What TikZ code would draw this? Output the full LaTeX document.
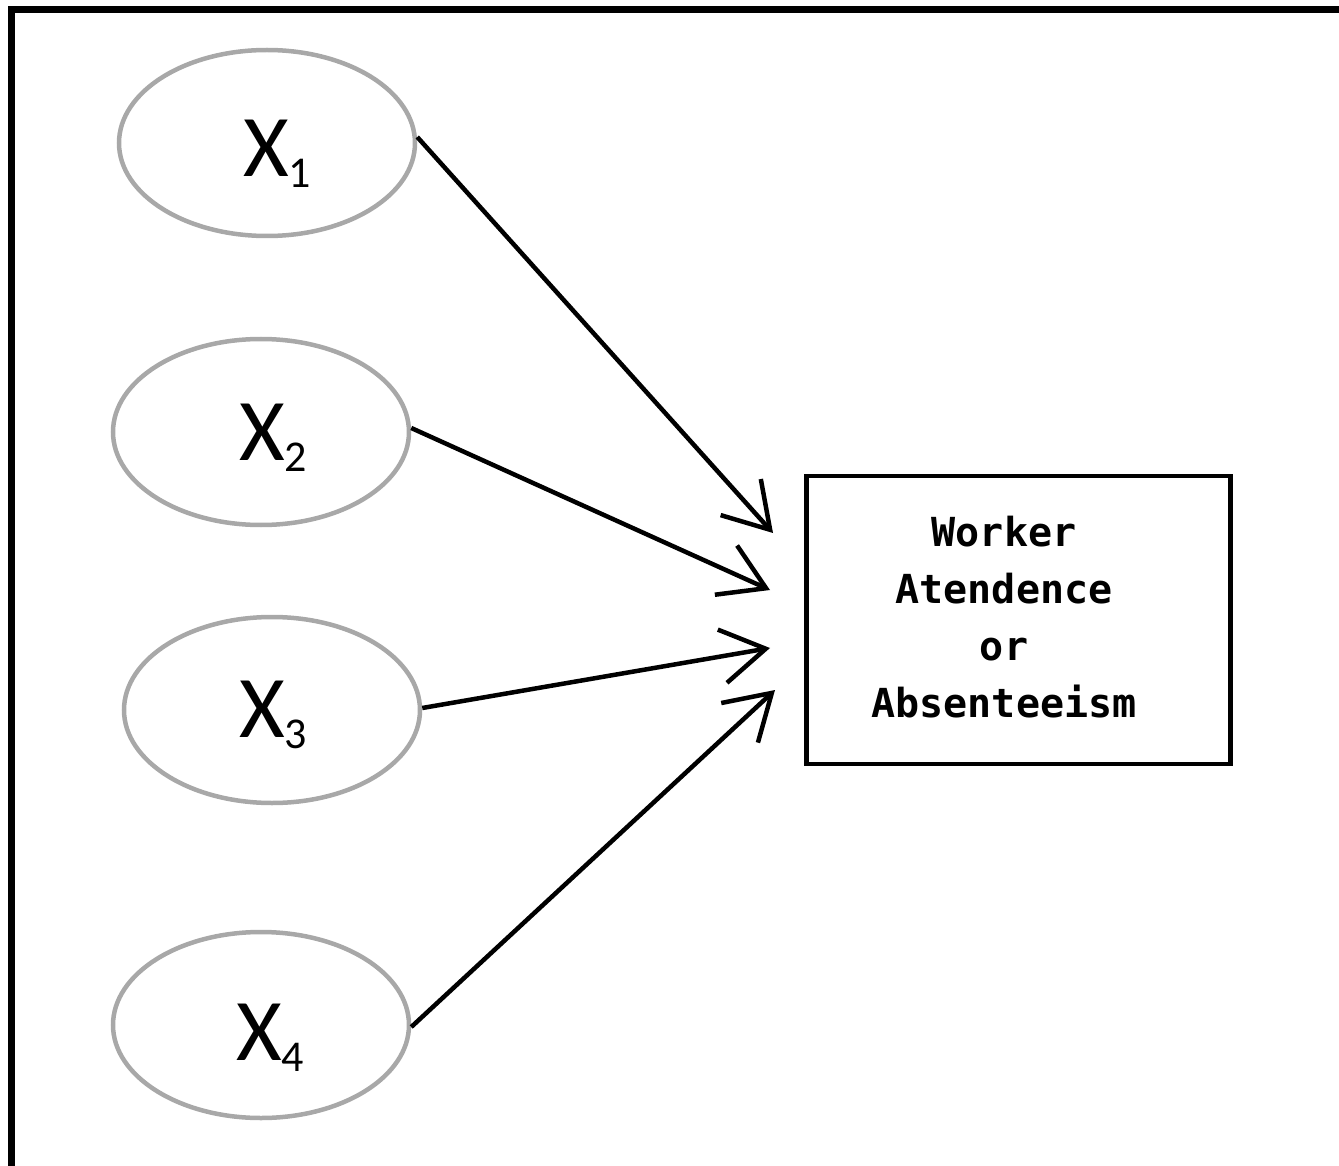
\documentclass[tikz,border=0pt]{standalone}
\usepackage{fontspec}
\setmainfont{Carlito}
\newfontfamily\boxfont{DejaVu Sans Mono}
\usetikzlibrary{arrows.meta,shapes.geometric}
\tikzset{
  var/.style={draw=black!34, line width=4.5pt, ellipse, minimum width=296pt, minimum height=186pt, inner sep=0pt},
  varlabel/.style={inner sep=0pt, font=\fontsize{88}{88}\selectfont},
  target/.style={draw=black, line width=4.5pt, rectangle, minimum width=424pt, minimum height=288pt, inner sep=0pt},
  boxtext/.style={align=center, font=\boxfont\bfseries\fontsize{40}{57}\selectfont},
  link/.style={line width=4.5pt, -{Straight Barb[length=44pt, width=54pt, line width=4.5pt]}},
  frame/.style={line width=7pt}
}
\newcommand{\xvar}[1]{X\raisebox{-11pt}{\fontsize{44}{44}\selectfont #1}}
\begin{document}
\begin{tikzpicture}[x=1pt, y=-1pt]
  \useasboundingbox (0,0) rectangle (1339,1166);
  % open outer frame
  \draw[frame] (11.5,1166) -- (11.5,9.5) -- (1339,9.5);
  % factor ellipses
  \node[var] (x1) at (267,143) {};
  \node[var] (x2) at (261,432) {};
  \node[var] (x3) at (272,710) {};
  \node[var] (x4) at (261,1025) {};
  % factor labels, set a little right of centre
  \node[varlabel] (l1) at (277,154) {\xvar{1}};
  \node[varlabel] (l2) at (273,438) {\xvar{2}};
  \node[varlabel] (l3) at (273,715) {\xvar{3}};
  \node[varlabel] (l4) at (270,1038) {\xvar{4}};
  % outcome box
  \node[target] (y) at (1018.5,620) {};
  \node[boxtext] (ytext) at (1004,617) {Worker\\Atendence\\or\\Absenteeism};
  % arrow tips at the left side of the box
  \coordinate (t1) at (773,533);
  \coordinate (t2) at (770,590);
  \coordinate (t3) at (770,648);
  \coordinate (t4) at (775,690);
  \draw[link] ([yshift=6pt]x1.east) -- (t1);
  \draw[link] ([yshift=4pt]x2.east) -- (t2);
  \draw[link] ([yshift=2pt]x3.east) -- (t3);
  \draw[link] ([yshift=-2pt]x4.east) -- (t4);
\end{tikzpicture}
\end{document}
